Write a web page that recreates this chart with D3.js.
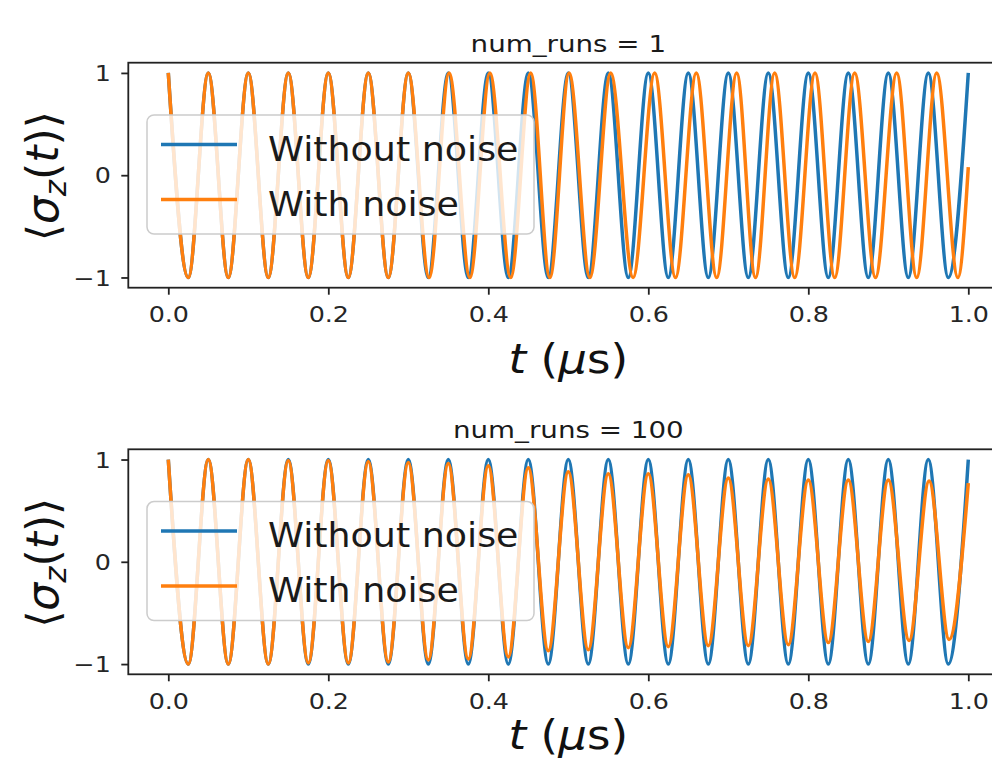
<!DOCTYPE html>
<html><head><meta charset="utf-8">
<script src="https://cdn.jsdelivr.net/npm/d3@7"></script>
<style>body{margin:0;background:#fff}svg{display:block}</style>
</head><body><svg id="c" width="992" height="761"></svg>
<script>
// ---- data ----
const xTicks = [0, 0.2, 0.4, 0.6, 0.8, 1.0];
const yTicks = [-1, 0, 1];
const titles = ["num_runs = 1", "num_runs = 100"];
const seriesNames = ["Without noise", "With noise"];
// extrema of the noiseless curve (time in µs, value)
const blueT = [0,0.025,0.05,0.075,0.1,0.125,0.15,0.175,0.2,0.225,0.25,0.275,0.3,0.325,0.35,0.375,0.4,0.425,0.45,0.475,0.5,0.525,0.55,0.575,0.6,0.625,0.65,0.675,0.7,0.725,0.75,0.775,0.8,0.825,0.85,0.875,0.9,0.925,0.95,0.975,1.0];
const blueV = [1,-1,1,-1,1,-1,1,-1,1,-1,1,-1,1,-1,1,-1,1,-1,1,-1,1,-1,1,-1,1,-1,1,-1,1,-1,1,-1,1,-1,1,-1,1,-1,1,-1,1];
// extrema of the noisy curve, num_runs = 1
const noisy1T = [0,0.025,0.05,0.075,0.1,0.125,0.15,0.175,0.2,0.225,0.25,0.275,0.3,0.326,0.351,0.377,0.402,0.428,0.453,0.477,0.501,0.527,0.553,0.581,0.608,0.634,0.660,0.6855,0.7105,0.734,0.758,0.783,0.8084,0.833,0.858,0.884,0.9105,0.9355,0.9605,0.987,1.0];
const noisy1V = [1,-1,1,-1,1,-1,1,-1,1,-1,1,-1,1,-1,1,-1,1,-1,1,-1,1,-1,1,-1,1,-1,1,-1,1,-1,1,-1,1,-1,1,-1,1,-1,1,-1,0.08];
// extrema of the noisy curve, num_runs = 100
const noisy100T = [0,0.025,0.05,0.075,0.1,0.125,0.15,0.175,0.2,0.225,0.25,0.275,0.3,0.325,0.35,0.375,0.4,0.425,0.45,0.475,0.5,0.525,0.55,0.575,0.6,0.625,0.65,0.675,0.7,0.725,0.75,0.775,0.8,0.825,0.85,0.875,0.9,0.926,0.951,0.976,1.0];
const noisy100V = [1,-1,1,-1,1,-1,0.99,-0.99,0.99,-0.99,0.98,-0.98,0.97,-0.96,0.96,-0.95,0.94,-0.93,0.92,-0.87,0.88,-0.86,0.86,-0.84,0.86,-0.83,0.85,-0.82,0.82,-0.82,0.81,-0.81,0.80,-0.79,0.80,-0.78,0.80,-0.77,0.79,-0.76,0.77];

const panels = [
  {title: titles[0], series: [[blueT, blueV], [noisy1T, noisy1V]]},
  {title: titles[1], series: [[blueT, blueV], [noisy100T, noisy100V]]}
];
const colors = ["#1f77b4", "#ff7f0e"];

// ---- layout ----
const FONT = "DejaVu Sans";
const left = 128.3, right = 1008.3, axH = 225;
const tops = [62.7, 449.3];
const xlabOff = [85.5, 74.5];
const svg = d3.select("#c");
const x = d3.scaleLinear().domain([-0.05, 1.05]).range([left, right]);
const SX = 1.18; // horizontal glyph stretch of the reference

panels.forEach((p, i) => {
  const top = tops[i], bot = top + axH;
  const y = d3.scaleLinear().domain([-1.1, 1.1]).range([bot, top]);
  const g = svg.append("g");
  const clipId = "clip" + i;
  g.append("clipPath").attr("id", clipId).append("rect")
    .attr("x", left).attr("y", top).attr("width", right - left).attr("height", axH);

  const line = d3.line().x(d => x(d[0])).y(d => y(d[1])).curve(d3.curveMonotoneX);
  p.series.forEach((s, k) => {
    const pts = s[0].map((t, j) => [t, s[1][j]]);
    g.append("path").attr("d", line(pts)).attr("fill", "none")
      .attr("stroke", colors[k]).attr("stroke-width", 3.5)
      .attr("stroke-linejoin", "round").attr("stroke-linecap", "butt")
      .attr("clip-path", `url(#${clipId})`);
  });

  // x axis
  const xa = g.append("g").attr("transform", `translate(0,${bot})`)
    .call(d3.axisBottom(x).tickValues(xTicks).tickFormat(d3.format(".1f")).tickSize(7).tickPadding(8).tickSizeOuter(0));
  xa.select(".domain").remove();
  xa.selectAll("line").attr("stroke", "#222").attr("stroke-width", 1.8);
  xa.selectAll("text").attr("font-family", FONT).attr("font-size", 21.5).attr("fill", "#262626")
    .attr("dy", null).attr("y", 34.6).attr("transform", `scale(${SX},1)`);

  // y axis
  const ya = g.append("g").attr("transform", `translate(${left},0)`)
    .call(d3.axisLeft(y).tickValues(yTicks).tickFormat(d => d < 0 ? "\u2212" + Math.abs(d) : d).tickSize(7).tickPadding(8).tickSizeOuter(0));
  ya.select(".domain").remove();
  ya.selectAll("line").attr("stroke", "#222").attr("stroke-width", 1.8);
  ya.selectAll("text").attr("font-family", FONT).attr("font-size", 21.5).attr("fill", "#262626")
    .attr("x", -17.5 / SX).attr("dy", "0.36em").attr("transform", `scale(${SX},1)`);

  // spines
  g.append("rect").attr("x", left).attr("y", top).attr("width", right - left).attr("height", axH)
    .attr("fill", "none").attr("stroke", "#222").attr("stroke-width", 1.8);

  // title
  g.append("text").attr("transform", `translate(${(left + right) / 2},${top - 11}) scale(${SX},1)`)
    .attr("text-anchor", "middle").attr("font-family", FONT).attr("font-size", 23.5).attr("fill", "#1a1a1a")
    .text(p.title);

  // x label
  const xl = g.append("text").attr("transform", `translate(${(left + right) / 2},${bot + xlabOff[i]}) scale(1.1,1)`)
    .attr("text-anchor", "middle").attr("font-family", FONT).attr("font-size", 41).attr("fill", "#111");
  xl.append("tspan").attr("font-style", "italic").text("t");
  xl.append("tspan").text(" (");
  xl.append("tspan").attr("font-style", "italic").text("\u03bc");
  xl.append("tspan").text("s)");

  // y label
  const yl = g.append("text").attr("transform", `translate(58,${top + axH / 2 + 1}) rotate(-90)`)
    .attr("text-anchor", "middle").attr("font-family", FONT).attr("font-size", 44).attr("fill", "#111");
  yl.append("tspan").text("\u27e8");
  yl.append("tspan").attr("font-style", "italic").text("\u03c3");
  yl.append("tspan").attr("font-style", "italic").attr("font-size", 31).attr("dy", 8).text("z");
  yl.append("tspan").attr("dy", -8).text("(");
  yl.append("tspan").attr("font-style", "italic").text("t");
  yl.append("tspan").text(")\u27e9");

  // legend
  const lg = g.append("g").attr("transform", `translate(147,${top + 52.3})`);
  lg.append("rect").attr("width", 387).attr("height", 119).attr("rx", 7)
    .attr("fill", "#fff").attr("fill-opacity", 0.8).attr("stroke", "#cccccc").attr("stroke-width", 1.5);
  seriesNames.forEach((nm, k) => {
    const ly = 29.5 + k * 55;
    lg.append("line").attr("x1", 14).attr("x2", 90).attr("y1", ly).attr("y2", ly)
      .attr("stroke", colors[k]).attr("stroke-width", 3.5);
    lg.append("text").attr("transform", `translate(121,${ly + 16}) scale(1.07,1)`)
      .attr("font-family", FONT).attr("font-size", 34).attr("fill", "#1a1a1a").text(nm);
  });
});
</script></body></html>
